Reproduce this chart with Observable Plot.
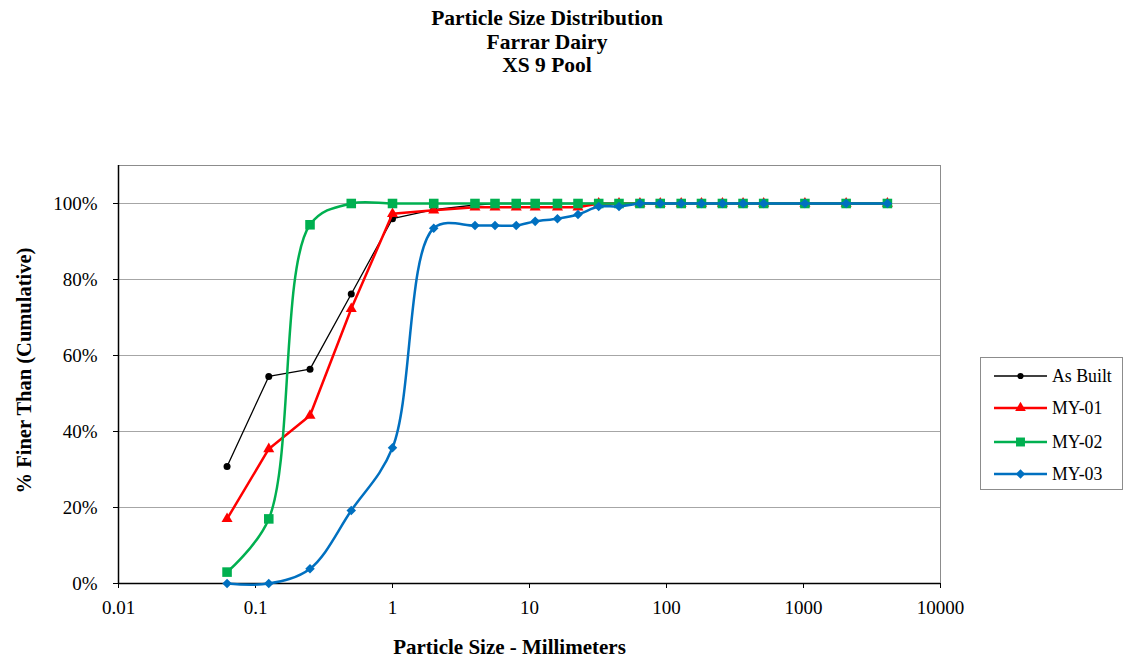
<!DOCTYPE html>
<html>
<head>
<meta charset="utf-8">
<script src="https://cdn.jsdelivr.net/npm/d3@7"></script>
<script src="https://cdn.jsdelivr.net/npm/@observablehq/plot@0.6"></script>
<style>
  body { margin: 0; background: white; font-family: "Liberation Serif", "Times New Roman", serif; }
  #wrap { position: relative; width: 1128px; height: 659px; overflow: hidden; }
  #title { position: absolute; left: 347px; width: 400px; top: 7px; text-align: center; font-weight: bold; font-size: 21.5px; line-height: 23.7px; color: #000; }
  #chart { position: absolute; left: 0; top: 100px; }
  #legend { position: absolute; left: 980px; top: 357px; width: 143px; height: 133px; border: 1px solid #8c8c8c; box-sizing: border-box; background: white; }
  .item { position: absolute; left: 13px; height: 20px; display: flex; align-items: center; font-size: 17.8px; white-space: nowrap; }
  .item svg { margin-right: 5px; }
</style>
</head>
<body>
<div id="wrap">
  <div id="title">Particle Size Distribution<br>Farrar Dairy<br>XS 9 Pool</div>
  <div id="chart"></div>
  <div id="legend"></div>
</div>
<script>
// Sieve sizes (mm)
const sizes = [0.062, 0.125, 0.25, 0.5, 1, 2, 4, 5.6, 8, 11, 16, 22.6, 32, 45, 64, 90, 128, 180, 256, 362, 512, 1024, 2048, 4096];
// % finer (cumulative)
const asBuilt = [30.8, 54.5, 56.4, 76.2, 96.0, 98.4, 99.6, 100, 100, 100, 100, 100, 100, 100, 100, 100, 100, 100, 100, 100, 100, 100, 100, 100];
const my01    = [17.0, 35.4, 44.2, 72.3, 97.3, 98.2, 99.0, 99.0, 99.0, 99.0, 99.0, 99.0, 100, 100, 100, 100, 100, 100, 100, 100, 100, 100, 100, 100];
const my02    = [3.0, 17.0, 94.4, 100, 100, 100, 100, 100, 100, 100, 100, 100, 100, 100, 100, 100, 100, 100, 100, 100, 100, 100, 100, 100];
const my03    = [0, 0, 3.9, 19.2, 35.7, 93.5, 94.2, 94.2, 94.2, 95.3, 96.0, 97.1, 99.2, 99.2, 100, 100, 100, 100, 100, 100, 100, 100, 100, 100];

const seriesNames = ["As Built", "MY-01", "MY-02", "MY-03"];
const seriesColors = ["#000000", "#ff0000", "#00b050", "#0070c0"];
const seriesSymbols = ["circle", "triangle", "square", "diamond2"];
const xTicks = [0.01, 0.1, 1, 10, 100, 1000, 10000];
const yTicks = [0, 20, 40, 60, 80, 100];

const table = (vals) => sizes.map((s, i) => ({size: s, pct: vals[i]}));
const allSeries = [asBuilt, my01, my02, my03].map(table);

const styles = [
  {stroke: seriesColors[0], strokeWidth: 1.3, curve: "linear", r: 3.5},
  {stroke: seriesColors[1], strokeWidth: 2.5, curve: "linear", r: 4.1},
  {stroke: seriesColors[2], strokeWidth: 2.5, curve: "catmull-rom", r: 5.4},
  {stroke: seriesColors[3], strokeWidth: 2.5, curve: "catmull-rom", r: 4.3}
];

const marks = [
  Plot.gridY(yTicks, {stroke: "#a6a6a6", strokeOpacity: 1, strokeWidth: 1}),
  Plot.frame({stroke: "#8c8c8c", strokeWidth: 1}),
  Plot.ruleY([0], {stroke: "#000", strokeWidth: 1.5}),
  Plot.ruleX([0.01], {stroke: "#000", strokeWidth: 1.5}),
  Plot.axisY({ticks: yTicks, tickFormat: d => d + "%", tickSize: 5, tickPadding: 16, label: null, fontSize: 19}),
  Plot.axisX({ticks: xTicks, tickFormat: d => String(d), tickSize: 5, tickPadding: 12, label: null, fontSize: 19}),
  Plot.text(["% Finer Than (Cumulative)"], {frameAnchor: "left", textAnchor: "middle", lineAnchor: "middle", rotate: -90, dx: -94, dy: -4, fontWeight: "bold", fontSize: 20.5}),
  Plot.text(["Particle Size - Millimeters"], {frameAnchor: "bottom", textAnchor: "middle", dy: 70, dx: -20, fontWeight: "bold", fontSize: 21})
];
allSeries.forEach((data, i) => {
  const st = styles[i];
  marks.push(Plot.line(data, {x: "size", y: "pct", stroke: st.stroke, strokeWidth: st.strokeWidth, curve: st.curve}));
  marks.push(Plot.dot(data, {x: "size", y: "pct", fill: st.stroke, stroke: "none", r: st.r, symbol: () => seriesSymbols[i]}));
});

const chart = Plot.plot({
  width: 1128,
  height: 559,
  marginLeft: 118,
  marginRight: 188,
  marginTop: 65,
  marginBottom: 76,
  style: {fontFamily: "'Liberation Serif', 'Times New Roman', serif", fontSize: "19px", color: "#000", background: "transparent", overflow: "visible"},
  x: {type: "log", domain: [0.01, 10000]},
  y: {domain: [0, 110]},
  symbol: {type: "identity"},
  marks
});
document.getElementById("chart").appendChild(chart);

// Legend
const legend = document.getElementById("legend");
const symPath = {
  circle: d3.symbol(d3.symbolCircle, 30)(),
  triangle: d3.symbol(d3.symbolTriangle, 50)(),
  square: d3.symbol(d3.symbolSquare, 80)(),
  diamond2: d3.symbol(d3.symbolDiamond2, 55)()
};
const legendCenters = [18, 50, 84, 116];
seriesNames.forEach((name, i) => {
  const div = document.createElement("div");
  div.className = "item";
  div.style.top = (legendCenters[i] - 10) + "px";
  const sw = styles[i].strokeWidth;
  div.innerHTML = `<svg width="53" height="20"><line x1="0" x2="53" y1="10" y2="10" stroke="${seriesColors[i]}" stroke-width="${sw}"/><path transform="translate(26.5,10)" d="${symPath[seriesSymbols[i]]}" fill="${seriesColors[i]}"/></svg><span>${name}</span>`;
  legend.appendChild(div);
});
</script>
</body>
</html>
